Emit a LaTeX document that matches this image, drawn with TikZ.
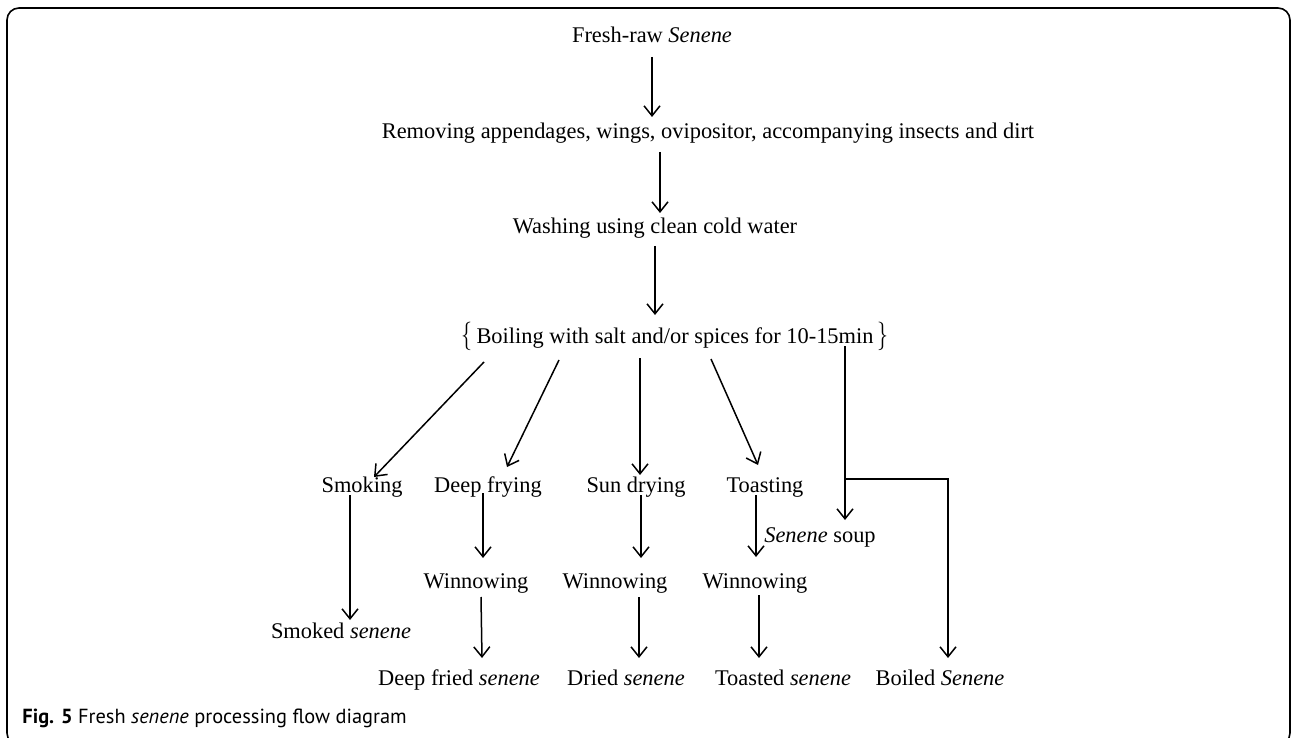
\documentclass[tikz,border=0pt]{standalone}
\usepackage{fontspec}
\setmainfont{Liberation Serif}
\newfontfamily\capfont{PT Sans}
\usetikzlibrary{arrows.meta,calc}
\newcommand{\bodysz}{\fontsize{11.2}{13}\selectfont}
\newcommand{\tallbrace}[1]{\scalebox{1}[1.3]{$\big#1$}}
\tikzset{
  lbl/.style={inner sep=0pt, text height=8pt, text depth=2.5pt, font=\bodysz},
  arr/.style={-{Straight Barb[length=5pt,width=8pt]}, line width=0.75pt},
  frameline/.style={line width=0.8pt, rounded corners=6pt}
}
\begin{document}
\begin{tikzpicture}[x=0.5pt,y=-0.5pt]
\useasboundingbox (0,0) rectangle (1292,738);
\begin{scope}
\clip (0,0) rectangle (1292,738);
\draw[frameline] (7,8) rectangle (1290,745);
\end{scope}
% nodes
\node[lbl] (fresh) at (652,37) {Fresh-raw \textit{Senene}};
\node[lbl] (remove) at (708,133) {Removing appendages, wings, ovipositor, accompanying insects and dirt};
\node[lbl] (wash) at (655,228) {Washing using clean cold water};
\node[lbl] (boil) at (675,338) {\tallbrace\{\hspace{2pt}Boiling with salt and/or spices for 10-15min\hspace{2pt}\tallbrace\}};
\node[lbl] (smoking) at (362,487) {Smoking};
\node[lbl] (deepfry) at (488,487) {Deep frying};
\node[lbl] (sundry) at (636,487) {Sun drying};
\node[lbl] (toast) at (765,487) {Toasting};
\node[lbl] (soup) at (820,537) {\textit{Senene} soup};
\node[lbl] (win1) at (476,583) {Winnowing};
\node[lbl] (win2) at (615,583) {Winnowing};
\node[lbl] (win3) at (755,583) {Winnowing};
\node[lbl] (smoked) at (341,633) {Smoked \textit{senene}};
\node[lbl] (fried) at (459,680) {Deep fried \textit{senene}};
\node[lbl] (dried) at (626,680) {Dried \textit{senene}};
\node[lbl] (toasted) at (783,680) {Toasted \textit{senene}};
\node[lbl] (boiled) at (940,680) {Boiled \textit{Senene}};
\node[anchor=west, inner sep=0pt, font=\capfont\fontsize{10.2}{12}\selectfont] (caption) at (22,718) {\textbf{Fig. 5} Fresh \textit{senene} processing flow diagram};
% connectors
\draw[arr] ($(fresh)+(0,20)$) -- ($(remove)+(-56,-16)$);
\draw[arr] ($(remove)+(-48,19)$) -- ($(wash)+(5,-15)$);
\draw[arr] ($(wash)+(0,18)$) -- ($(boil)+(-20,-23)$);
\draw[arr] ($(boil)+(-191,24)$) -- ($(smoking)+(12,-10)$);
\draw[arr] ($(boil)+(-116,22)$) -- ($(deepfry)+(19,-20)$);
\draw[arr] ($(boil)+(-35,20)$) -- ($(sundry)+(4,-12)$);
\draw[arr] ($(boil)+(36,21)$) -- ($(toast)+(-7,-22)$);
\draw[arr] ($(boil)+(170,8)$) -- ($(soup)+(25,-17)$);
\draw[arr] ($(boil)+(170,141)$) -| ($(boiled)+(8,-22)$);
\draw[arr] ($(smoking)+(-12,8)$) -- ($(smoked)+(9,-13)$);
\draw[arr] ($(deepfry)+(-5,6)$) -- ($(win1)+(7,-25)$);
\draw[arr] ($(sundry)+(5,8)$) -- ($(win2)+(26,-25)$);
\draw[arr] ($(toast)+(-9,8)$) -- ($(win3)+(1,-26)$);
\draw[arr] ($(win1)+(5,14)$) -- ($(fried)+(23,-22)$);
\draw[arr] ($(win2)+(24,14)$) -- ($(dried)+(13,-22)$);
\draw[arr] ($(win3)+(4,12)$) -- ($(toasted)+(-24,-22)$);
\end{tikzpicture}
\end{document}
